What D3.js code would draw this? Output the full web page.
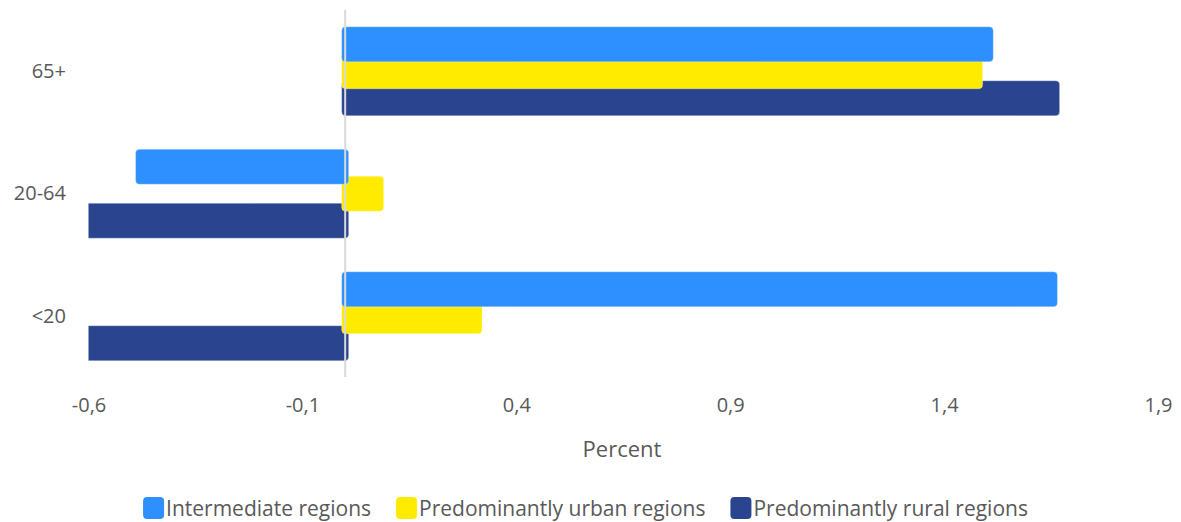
<!DOCTYPE html>
<html>
<head>
<meta charset="utf-8">
<script src="https://cdn.jsdelivr.net/npm/d3@7"></script>
<style>
  body { margin: 0; background: #fff; }
  text { font-family: "Open Sans", sans-serif; fill: #595959; }
</style>
</head>
<body>
<svg id="chart" width="1181" height="522"></svg>
<script>
// age groups, top to bottom
const categories = ["65+", "20-64", "<20"]
const seriesNames = ["Intermediate regions", "Predominantly urban regions", "Predominantly rural regions"]
const intermediate = [1.515, -0.49, 1.665]
const urban = [1.49, 0.09, 0.32]
const rural = [1.67, -0.62, -0.62]
const tickValues = [-0.6, -0.1, 0.4, 0.9, 1.4, 1.9]
const colors = ["#2e8ffe", "#ffeb00", "#2b448f"]

const series = [intermediate, urban, rural]
const svg = d3.select("#chart")

const xScale = d3.scaleLinear().domain([-0.6, 1.9]).range([88.5, 1158])
const yScale = d3.scaleBand().domain(categories).range([10, 377.5])

const barH = yScale.bandwidth() * 0.2857
const step = barH * 0.771
const groupH = step * 2 + barH
const pad = 3.5 // bars poke a little past the zero line

svg.append("clipPath").attr("id", "plotclip")
  .append("rect")
  .attr("x", xScale(-0.6)).attr("y", 0)
  .attr("width", xScale(1.9) - xScale(-0.6)).attr("height", 400)

const plot = svg.append("g").attr("clip-path", "url(#plotclip)")

// rural drawn first, intermediate last (it sits on top)
for (let s = series.length - 1; s >= 0; s--) {
  plot.append("g")
    .selectAll("rect")
    .data(series[s].map((v, i) => ({ v: v, cat: categories[i] })))
    .join("rect")
    .attr("x", d => d.v >= 0 ? xScale(0) - pad : xScale(d.v))
    .attr("width", d => Math.abs(xScale(d.v) - xScale(0)) + pad)
    .attr("y", d => yScale(d.cat) + (yScale.bandwidth() - groupH) / 2 + s * step)
    .attr("height", barH)
    .attr("rx", 4)
    .attr("fill", colors[s])
    .attr("stroke", "#ffffff")
    .attr("stroke-opacity", 0.3)
    .attr("stroke-width", 1)
}

// zero line
svg.append("line")
  .attr("x1", xScale(0)).attr("x2", xScale(0))
  .attr("y1", 10).attr("y2", 377)
  .attr("stroke", "#d9d9d9").attr("stroke-width", 2)

// x axis labels
const xAxis = d3.axisBottom(xScale)
  .tickValues(tickValues)
  .tickSize(0)
  .tickPadding(0)
  .tickFormat(d => d3.format(".1f")(d).replace(".", ",").replace("−", "-"))
const gx = svg.append("g").attr("transform", "translate(0,398)").call(xAxis)
gx.select(".domain").remove()
gx.selectAll("text").attr("font-size", 20).attr("dy", "0.71em").attr("font-family", null)

// y axis labels
const yAxis = d3.axisLeft(yScale).tickSize(0).tickPadding(0)
const gy = svg.append("g").attr("transform", "translate(66,0)").call(yAxis)
gy.select(".domain").remove()
gy.selectAll("text").attr("font-size", 20).attr("font-family", null)

svg.append("text")
  .attr("x", 622).attr("y", 457)
  .attr("text-anchor", "middle")
  .attr("font-size", 22)
  .text("Percent")

// legend
const legend = svg.append("g").attr("transform", "translate(0,497)")
const items = legend.selectAll("g").data(seriesNames).join("g")
items.append("rect")
  .attr("width", 21).attr("height", 22).attr("rx", 4)
  .attr("fill", (d, i) => colors[i])
items.append("text")
  .attr("x", 23).attr("y", 19)
  .attr("font-size", 21)
  .text(d => d)
let cursor = 0
const widths = []
items.each(function () {
  const w = 23 + this.querySelector("text").getComputedTextLength()
  widths.push(w)
})
const total = d3.sum(widths) + 25 * (widths.length - 1)
cursor = 585.5 - total / 2
items.attr("transform", (d, i) => {
  const t = "translate(" + cursor + ",0)"
  cursor += widths[i] + 25
  return t
})
</script>
</body>
</html>
